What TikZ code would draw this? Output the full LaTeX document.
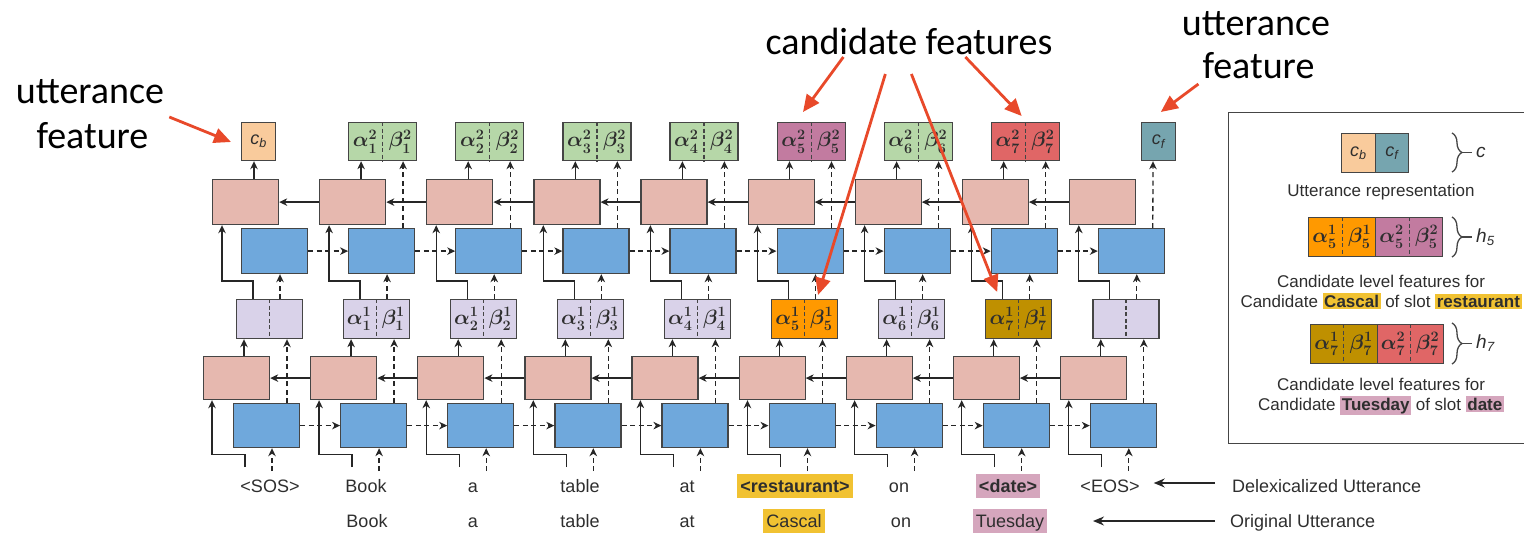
\documentclass[tikz,border=0pt]{standalone}
\usepackage{fontspec}
\setmainfont{Liberation Sans}
\newfontfamily\annotfont{Carlito}
\usetikzlibrary{arrows.meta,calc,decorations.pathreplacing}

\definecolor{edgegray}{HTML}{454545}
\definecolor{linegray}{HTML}{262626}
\definecolor{textgray}{HTML}{2E2E2E}
\definecolor{bwdpink}{HTML}{E6B8AF}
\definecolor{fwdblue}{HTML}{6FA8DC}
\definecolor{lavender}{HTML}{D9D2E9}
\definecolor{featgreen}{HTML}{B6D7A8}
\definecolor{slotorange}{HTML}{FF9900}
\definecolor{slotgold}{HTML}{BF9000}
\definecolor{slotmagenta}{HTML}{C27BA0}
\definecolor{slotred}{HTML}{E06666}
\definecolor{uttpeach}{HTML}{F9CB9C}
\definecolor{uttteal}{HTML}{76A5AF}
\definecolor{hlgold}{HTML}{F1C232}
\definecolor{hlpink}{HTML}{D5A6BD}
\definecolor{callout}{HTML}{E8492A}

% highlighted word inside running text
\newcommand\hlword[2]{{\setlength\fboxsep{1.5pt}\colorbox{#1}{\textbf{#2}}}}

\begin{document}
\begin{tikzpicture}[x=1pt,y=-1pt,
  cellbox/.style={draw=edgegray,line width=1.2pt,inner sep=0pt,anchor=north west,minimum width=66pt},
  fwd/.style={cellbox,fill=fwdblue},
  bwd/.style={cellbox,fill=bwdpink},
  feat/.style={cellbox,minimum height=39pt},
  feattop/.style={cellbox,minimum width=68pt,minimum height=38pt},
  uttbox/.style={cellbox,minimum width=34pt,minimum height=38pt},
  conn/.style={draw=linegray,line width=1.3pt,-{Stealth[length=8pt,width=7.5pt,inset=2.5pt]}},
  dconn/.style={conn,dash pattern=on 5pt off 3.5pt},
  divider/.style={draw=edgegray,line width=1.2pt,dash pattern=on 4pt off 2.5pt},
  mathlbl/.style={inner sep=0pt,text=textgray,font=\fontsize{20.74}{20.74}\selectfont\boldmath},
  symlbl/.style={inner sep=0pt,text=textgray,font=\fontsize{18}{18}\selectfont\itshape},
  bracelbl/.style={inner sep=0pt,anchor=west,text=textgray,font=\fontsize{19}{19}\selectfont\itshape},
  word/.style={anchor=base,inner sep=0pt,text=textgray,font=\fontsize{18}{18}\selectfont},
  hlnode/.style={word,inner xsep=3pt,inner ysep=3.5pt,text height=15pt,text depth=2pt},
  legendtxt/.style={anchor=base,inner sep=0pt,text=textgray,font=\fontsize{17}{20}\selectfont},
  annot/.style={anchor=base,inner sep=0pt,font=\annotfont\fontsize{38}{38}\selectfont},
  callarrow/.style={draw=callout,line width=2.8pt,-{Triangle[length=17pt,width=15pt]}},
  bracestyle/.style={draw=edgegray,line width=1.3pt,decorate,decoration={brace,amplitude=10pt}},
]
\useasboundingbox (0,0) rectangle (1524,533);
\clip (0,0) rectangle (1524,533);

% ---------- recurrent cells of both layers ----------
\foreach \i in {0,...,8} {
  \pgfmathsetmacro\bx{233+107.1*\i}
  \pgfmathsetmacro\ux{241+107.1*\i}
  \node[fwd,minimum height=44pt] (lb\i) at (\bx,403) {};
  \node[bwd,minimum height=43pt] (lp\i) at (\bx-30,356) {};
  \node[fwd,minimum height=45pt] (ub\i) at (\ux,228) {};
  \node[bwd,minimum height=45pt] (up\i) at (\ux-29,179) {};
}

% ---------- first-level feature cells ----------
\foreach \i/\fc in {0/lavender,1/lavender,2/lavender,3/lavender,4/lavender,5/slotorange,6/lavender,7/slotgold,8/lavender} {
  \pgfmathsetmacro\px{235.5+107.1*\i}
  \node[feat,fill=\fc] (pu\i) at (\px,299) {};
  \draw[divider] (pu\i.north) -- (pu\i.south);
}
\foreach \i in {1,...,7} {
  \node[mathlbl] (pa\i) at ($(pu\i.west)+(16.5,0)$) {$\alpha^1_{\i}$};
  \node[mathlbl] (pb\i) at ($(pu\i.east)+(-16.5,0)$) {$\beta^1_{\i}$};
}

% ---------- second-level feature cells ----------
\foreach \i/\fc in {1/featgreen,2/featgreen,3/featgreen,4/featgreen,5/slotmagenta,6/featgreen,7/slotred} {
  \pgfmathsetmacro\ux{241+107.1*\i}
  \node[feattop,fill=\fc] (tp\i) at (\ux,122) {};
  \draw[divider] (tp\i.north) -- (tp\i.south);
  \node[mathlbl] (ta\i) at ($(tp\i.west)+(17,0)$) {$\alpha^2_{\i}$};
  \node[mathlbl] (tb\i) at ($(tp\i.east)+(-17,0)$) {$\beta^2_{\i}$};
}
\node[uttbox,fill=uttpeach] (tp0) at (241,122) {};
\node[symlbl] (cbt) at (tp0) {c\textsubscript{b}};
\node[uttbox,fill=uttteal] (tp8) at (1140.8,122) {};
\node[symlbl] (cft) at (tp8) {c\textsubscript{f}};

% ---------- vertical connectors ----------
\foreach \i in {0,...,8} {
  \draw[conn] ($(lb\i.south west)+(12,19)$) -- ++(0,-13) -| ($(lp\i.south west)+(9,0)$);
  \draw[dconn] ($(lb\i.south west)+(39,23)$) -- ($(lb\i.south west)+(39,0)$);
  \draw[conn] ($(lp\i.north west)+(41,0)$) -- ($(pu\i.south west)+(8.5,0)$);
  \draw[dconn] ($(lb\i.north west)+(54,0)$) -- ($(pu\i.south west)+(51.5,0)$);
  \draw[conn] ($(pu\i.north west)+(17.5,0)$) -- ++(0,-18) -| ($(up\i.south west)+(10,0)$);
  \draw[dconn] ($(pu\i.north west)+(44.5,0)$) -- ($(ub\i.south west)+(39,0)$);
}
\foreach \i in {0,...,7}
  \draw[conn] ($(up\i.north west)+(42,0)$) -- ($(tp\i.south west)+(13,0)$);
\foreach \i in {1,...,7}
  \draw[dconn] ($(ub\i.north west)+(55,0)$) -- ($(tp\i.south west)+(55,0)$);
\draw[dconn] ($(ub8.north west)+(55,0)$) -- ($(tp8.south west)+(12.2,0)$);

% ---------- horizontal (recurrent) connectors ----------
\foreach \i [evaluate=\i as \j using int(\i+1)] in {0,...,7} {
  \draw[conn] (lp\j.west) -- (lp\i.east);
  \draw[dconn] (lb\i.east) -- (lb\j.west);
  \draw[conn] (up\j.west) -- (up\i.east);
  \draw[dconn] (ub\i.east) -- (ub\j.west);
}

% ---------- input words ----------
\node[word] (w0) at (270,492) {\textless SOS\textgreater};
\node[word] (w1) at (366,492) {Book};
\node[word] (w2) at (473,492) {a};
\node[word] (w3) at (580,492) {table};
\node[word] (w4) at (687,492) {at};
\node[hlnode,fill=hlgold] (w5) at (795,492) {\textbf{\textless restaurant\textgreater}};
\node[word] (w6) at (899,492) {on};
\node[hlnode,fill=hlpink] (w7) at (1008,492) {\textbf{\textless date\textgreater}};
\node[word] (w8) at (1110,492) {\textless EOS\textgreater};

\node[word] (o1) at (367,527) {Book};
\node[word] (o2) at (473,527) {a};
\node[word] (o3) at (580,527) {table};
\node[word] (o4) at (687,527) {at};
\node[hlnode,fill=hlgold] (o5) at (794,527) {Cascal};
\node[word] (o6) at (901,527) {on};
\node[hlnode,fill=hlpink] (o7) at (1010,527) {Tuesday};

\node[word,anchor=base west] (dl) at (1232,492) {Delexicalized Utterance};
\node[word,anchor=base west] (ol) at (1230,527) {Original Utterance};
\coordinate (otip) at (1093,521);
\draw[conn,-{Stealth[length=11pt,width=9pt]}] ($(dl.base west)+(-17,-9)$) -- ($(w8.base east)+(14,-9)$);
\draw[conn,-{Stealth[length=11pt,width=9pt]}] ($(ol.base west)+(-15,-6)$) -- (otip);

% ---------- legend ----------
\node[draw=edgegray,line width=1.3pt,anchor=north west,minimum width=320pt,minimum height=331pt,inner sep=0pt] (legend) at (1228,112) {};

\node[cellbox,minimum width=33.5pt,minimum height=39pt,fill=uttpeach] (lcb) at (1341,133) {};
\node[cellbox,minimum width=33.5pt,minimum height=39pt,fill=uttteal] (lcf) at (1374.5,133) {};
\node[symlbl] (lcbt) at (lcb) {c\textsubscript{b}};
\node[symlbl] (lcft) at (lcf) {c\textsubscript{f}};
\draw[bracestyle] (1452,133) -- (1452,172);
\draw[edgegray,line width=1.3pt] (1462,152.5) -- (1472,152.5);
\node[bracelbl] (lc) at (1476,152.5) {c};
\node[legendtxt] (lg1) at (1381,196) {Utterance representation};

\node[cellbox,minimum width=67pt,minimum height=39pt,fill=slotorange] (h5a) at (1308,217) {};
\node[cellbox,minimum width=67pt,minimum height=39pt,fill=slotmagenta] (h5b) at (1375,217) {};
\draw[divider] (h5a.north) -- (h5a.south);
\draw[divider] (h5b.north) -- (h5b.south);
\node[mathlbl] (h5a1) at ($(h5a.west)+(16.5,0)$) {$\alpha^1_5$};
\node[mathlbl] (h5a2) at ($(h5a.east)+(-16.5,0)$) {$\beta^1_5$};
\node[mathlbl] (h5b1) at ($(h5b.west)+(16.5,0)$) {$\alpha^2_5$};
\node[mathlbl] (h5b2) at ($(h5b.east)+(-16.5,0)$) {$\beta^2_5$};
\draw[bracestyle] (1452,217) -- (1452,257);
\draw[edgegray,line width=1.3pt] (1462,237) -- (1472,237);
\node[bracelbl] (lh5) at (1476,237) {h\textsubscript{5}};
\node[legendtxt] (lg2a) at (1381,287) {Candidate level features for};
\node[legendtxt] (lg2b) at (1381,307) {Candidate \hlword{hlgold}{Cascal} of slot \hlword{hlgold}{restaurant}};

\node[cellbox,minimum width=66.5pt,minimum height=39pt,fill=slotgold] (h7a) at (1310,324) {};
\node[cellbox,minimum width=66.5pt,minimum height=39pt,fill=slotred] (h7b) at (1376.5,324) {};
\draw[divider] (h7a.north) -- (h7a.south);
\draw[divider] (h7b.north) -- (h7b.south);
\node[mathlbl] (h7a1) at ($(h7a.west)+(16.5,0)$) {$\alpha^1_7$};
\node[mathlbl] (h7a2) at ($(h7a.east)+(-16.5,0)$) {$\beta^1_7$};
\node[mathlbl] (h7b1) at ($(h7b.west)+(16.5,0)$) {$\alpha^2_7$};
\node[mathlbl] (h7b2) at ($(h7b.east)+(-16.5,0)$) {$\beta^2_7$};
\draw[bracestyle] (1452,323) -- (1452,364);
\draw[edgegray,line width=1.3pt] (1462,343.5) -- (1472,343.5);
\node[bracelbl] (lh7) at (1476,343.5) {h\textsubscript{7}};
\node[legendtxt] (lg3a) at (1381,390) {Candidate level features for};
\node[legendtxt] (lg3b) at (1381,410) {Candidate \hlword{hlpink}{Tuesday} of slot \hlword{hlpink}{date}};

% ---------- callouts ----------
\node[annot] (ul1) at (90,103) {utterance};
\node[annot] (ul2) at (92.5,148) {feature};
\node[annot] (cand) at (909,54) {candidate features};
\node[annot] (ur1) at (1256,35) {utterance};
\node[annot] (ur2) at (1258.5,78) {feature};

\draw[callarrow] ($(ul1.base east)+(5,14)$) -- ($(tp0.north west)+(-10,20)$);
\draw[callarrow] ($(cand.base west)+(78,3)$) -- ($(tp5.north west)+(26.5,-10)$);
\draw[callarrow] ($(cand.base west)+(120,20)$) -- ($(pu5.north west)+(47,-4)$);
\draw[callarrow] ($(cand.base west)+(146,20)$) -- ($(pu7.north west)+(12,-7)$);
\draw[callarrow] ($(cand.base west)+(200,3)$) -- ($(tp7.north west)+(31,-6)$);
\draw[callarrow] ($(ur2.base west)+(-4,6)$) -- ($(tp8.north west)+(20,-10)$);
\end{tikzpicture}
\end{document}
